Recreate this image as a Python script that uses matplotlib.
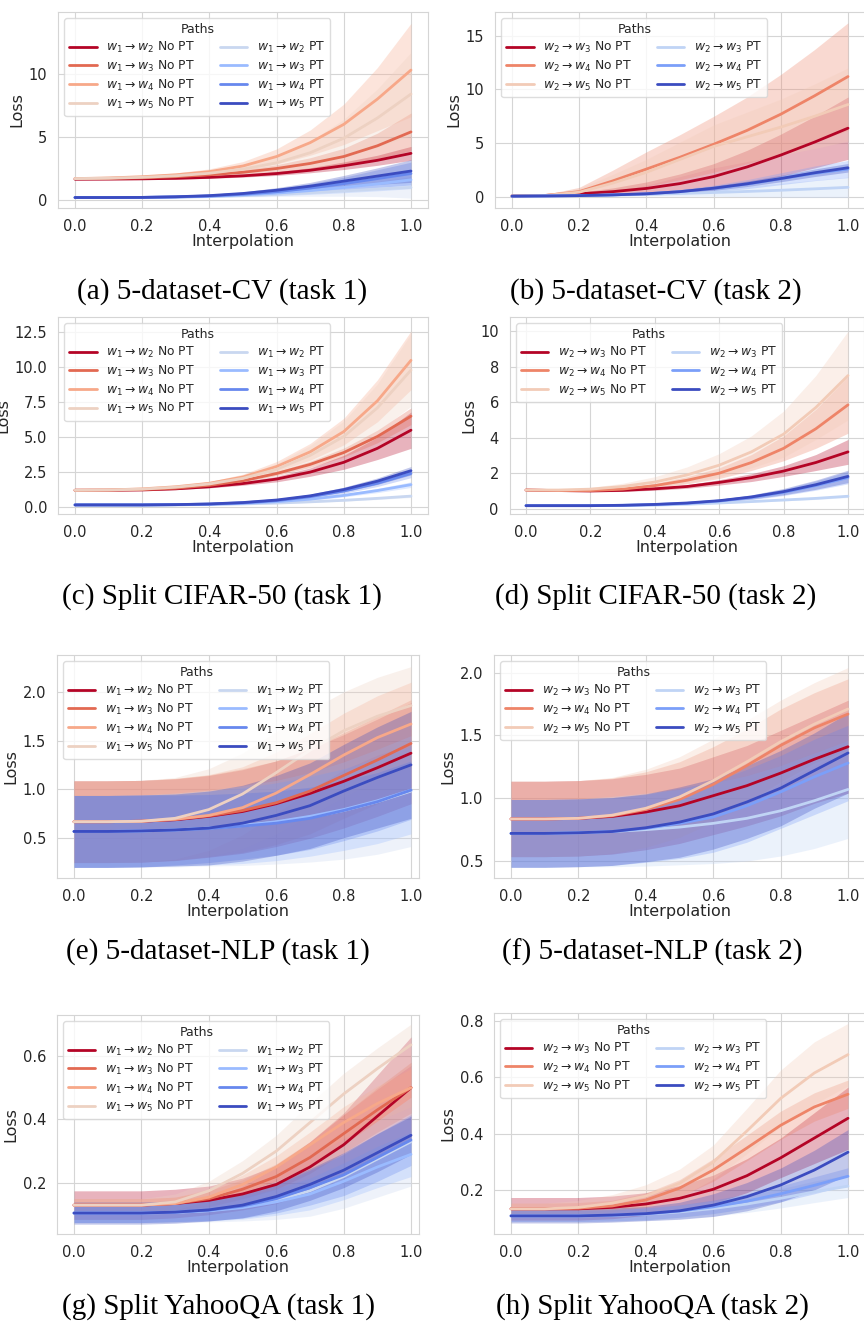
import numpy as np
import matplotlib
matplotlib.use("Agg")
import matplotlib.pyplot as plt
import seaborn as sns

sns.set_style("whitegrid")
plt.rcParams['font.family'] = ['DejaVu Sans']
plt.rcParams['axes.edgecolor'] = '#d5d5d5'
plt.rcParams['grid.color'] = '#d5d5d5'

# ---------------- data ----------------
interp = [0.0, 0.1, 0.2, 0.3, 0.4, 0.5, 0.6, 0.7, 0.8, 0.9, 1.0]

# (a) 5-dataset-CV task 1 : w1 -> w2..w5
a_nopt_mean = [
    [1.65, 1.66, 1.68, 1.72, 1.80, 1.92, 2.10, 2.36, 2.72, 3.15, 3.70],
    [1.70, 1.72, 1.76, 1.85, 2.00, 2.20, 2.50, 2.90, 3.45, 4.30, 5.40],
    [1.70, 1.75, 1.85, 2.00, 2.25, 2.70, 3.45, 4.55, 6.00, 8.00, 10.30],
    [1.70, 1.73, 1.80, 1.92, 2.12, 2.45, 2.95, 3.75, 4.90, 6.50, 8.40],
]
a_nopt_std = [
    [0.05, 0.05, 0.06, 0.07, 0.08, 0.10, 0.15, 0.20, 0.30, 0.40, 0.55],
    [0.05, 0.06, 0.08, 0.10, 0.13, 0.20, 0.30, 0.45, 0.65, 1.00, 1.50],
    [0.05, 0.07, 0.10, 0.15, 0.22, 0.35, 0.60, 1.00, 1.60, 2.50, 3.70],
    [0.05, 0.07, 0.10, 0.15, 0.22, 0.35, 0.55, 0.90, 1.50, 2.30, 3.30],
]
a_pt_mean = [
    [0.20, 0.20, 0.20, 0.22, 0.27, 0.35, 0.45, 0.58, 0.72, 0.87, 1.00],
    [0.20, 0.20, 0.21, 0.24, 0.30, 0.40, 0.55, 0.75, 1.00, 1.28, 1.60],
    [0.20, 0.20, 0.21, 0.25, 0.32, 0.46, 0.66, 0.95, 1.30, 1.70, 2.10],
    [0.20, 0.20, 0.21, 0.26, 0.35, 0.52, 0.78, 1.10, 1.50, 1.90, 2.30],
]
a_pt_std = [
    [0.02, 0.02, 0.03, 0.04, 0.06, 0.10, 0.17, 0.28, 0.42, 0.60, 0.85],
    [0.02, 0.02, 0.03, 0.05, 0.07, 0.12, 0.20, 0.30, 0.42, 0.55, 0.70],
    [0.02, 0.02, 0.03, 0.05, 0.08, 0.13, 0.22, 0.35, 0.50, 0.70, 0.90],
    [0.02, 0.02, 0.03, 0.05, 0.08, 0.13, 0.20, 0.30, 0.45, 0.65, 0.90],
]

# (b) 5-dataset-CV task 2 : w2 -> w3..w5
b_nopt_mean = [
    [0.10, 0.15, 0.30, 0.50, 0.80, 1.25, 1.90, 2.80, 3.90, 5.10, 6.40],
    [0.10, 0.15, 0.50, 1.50, 2.60, 3.70, 4.90, 6.20, 7.70, 9.40, 11.20],
    [0.10, 0.15, 0.45, 1.30, 2.30, 3.50, 4.70, 5.60, 6.50, 7.50, 8.60],
]
b_nopt_std = [
    [0.02, 0.05, 0.15, 0.35, 0.60, 0.90, 1.20, 1.55, 1.95, 2.40, 2.90],
    [0.02, 0.10, 0.40, 1.00, 1.60, 2.10, 2.60, 3.10, 3.70, 4.30, 5.00],
    [0.02, 0.10, 0.35, 0.80, 1.20, 1.60, 2.00, 2.30, 2.60, 3.00, 3.40],
]
b_pt_mean = [
    [0.08, 0.10, 0.13, 0.18, 0.25, 0.33, 0.42, 0.52, 0.63, 0.76, 0.90],
    [0.08, 0.10, 0.13, 0.20, 0.30, 0.50, 0.80, 1.20, 1.70, 2.20, 2.60],
    [0.08, 0.10, 0.13, 0.20, 0.30, 0.50, 0.82, 1.23, 1.72, 2.25, 2.72],
]
b_pt_std = [
    [0.01, 0.02, 0.05, 0.10, 0.15, 0.25, 0.35, 0.50, 0.65, 0.80, 0.95],
    [0.01, 0.02, 0.04, 0.07, 0.12, 0.20, 0.30, 0.42, 0.55, 0.68, 0.80],
    [0.01, 0.02, 0.04, 0.06, 0.10, 0.14, 0.20, 0.25, 0.30, 0.35, 0.40],
]

# (c) Split CIFAR-50 task 1
c_nopt_mean = [
    [1.20, 1.20, 1.22, 1.30, 1.45, 1.68, 2.00, 2.50, 3.20, 4.20, 5.50],
    [1.20, 1.21, 1.25, 1.35, 1.55, 1.88, 2.40, 3.05, 3.90, 5.05, 6.50],
    [1.20, 1.22, 1.30, 1.45, 1.70, 2.15, 2.90, 3.95, 5.40, 7.60, 10.50],
    [1.20, 1.22, 1.28, 1.42, 1.65, 2.05, 2.70, 3.70, 5.05, 7.10, 9.80],
]
c_nopt_std = [
    [0.02, 0.02, 0.03, 0.05, 0.08, 0.12, 0.20, 0.30, 0.50, 0.80, 1.30],
    [0.02, 0.02, 0.03, 0.05, 0.07, 0.10, 0.15, 0.22, 0.32, 0.45, 0.60],
    [0.02, 0.03, 0.05, 0.08, 0.12, 0.20, 0.35, 0.60, 0.95, 1.50, 2.10],
    [0.02, 0.03, 0.05, 0.08, 0.13, 0.22, 0.40, 0.70, 1.10, 1.70, 2.60],
]
c_pt_mean = [
    [0.15, 0.15, 0.15, 0.16, 0.18, 0.22, 0.28, 0.37, 0.48, 0.62, 0.78],
    [0.15, 0.15, 0.15, 0.16, 0.19, 0.26, 0.38, 0.56, 0.83, 1.18, 1.60],
    [0.15, 0.15, 0.15, 0.17, 0.21, 0.30, 0.46, 0.74, 1.15, 1.70, 2.40],
    [0.15, 0.15, 0.15, 0.17, 0.22, 0.32, 0.50, 0.80, 1.25, 1.85, 2.60],
]
c_pt_std = [
    [0.01, 0.01, 0.01, 0.01, 0.02, 0.02, 0.03, 0.04, 0.06, 0.08, 0.10],
    [0.01, 0.01, 0.01, 0.02, 0.03, 0.04, 0.06, 0.08, 0.10, 0.15, 0.20],
    [0.01, 0.01, 0.01, 0.02, 0.03, 0.05, 0.08, 0.12, 0.17, 0.23, 0.30],
    [0.01, 0.01, 0.01, 0.02, 0.03, 0.05, 0.08, 0.12, 0.17, 0.23, 0.30],
]

# (d) Split CIFAR-50 task 2
d_nopt_mean = [
    [1.05, 1.02, 1.00, 1.03, 1.12, 1.25, 1.48, 1.75, 2.12, 2.60, 3.20],
    [1.05, 1.02, 1.02, 1.10, 1.30, 1.60, 2.00, 2.60, 3.40, 4.50, 5.85],
    [1.05, 1.05, 1.10, 1.25, 1.50, 1.90, 2.45, 3.20, 4.20, 5.70, 7.50],
]
d_nopt_std = [
    [0.05, 0.05, 0.05, 0.06, 0.08, 0.10, 0.15, 0.22, 0.30, 0.45, 0.70],
    [0.05, 0.05, 0.06, 0.08, 0.12, 0.20, 0.30, 0.45, 0.70, 1.10, 1.60],
    [0.05, 0.06, 0.10, 0.18, 0.30, 0.45, 0.65, 0.90, 1.30, 1.80, 2.50],
]
d_pt_mean = [
    [0.17, 0.17, 0.17, 0.18, 0.20, 0.25, 0.32, 0.40, 0.49, 0.58, 0.70],
    [0.17, 0.17, 0.17, 0.19, 0.23, 0.30, 0.43, 0.63, 0.92, 1.30, 1.75],
    [0.17, 0.17, 0.17, 0.19, 0.24, 0.32, 0.45, 0.66, 0.96, 1.35, 1.82],
]
d_pt_std = [
    [0.01, 0.01, 0.01, 0.01, 0.02, 0.02, 0.03, 0.04, 0.05, 0.06, 0.07],
    [0.01, 0.01, 0.01, 0.02, 0.03, 0.05, 0.08, 0.12, 0.18, 0.26, 0.35],
    [0.01, 0.01, 0.01, 0.02, 0.03, 0.05, 0.08, 0.12, 0.18, 0.26, 0.35],
]

# (e) 5-dataset-NLP task 1
e_nopt_mean = [
    [0.665, 0.665, 0.670, 0.685, 0.720, 0.770, 0.850, 0.955, 1.080, 1.220, 1.370],
    [0.665, 0.665, 0.670, 0.690, 0.725, 0.780, 0.860, 0.980, 1.140, 1.300, 1.470],
    [0.665, 0.665, 0.670, 0.690, 0.730, 0.810, 0.960, 1.150, 1.350, 1.530, 1.670],
    [0.665, 0.665, 0.670, 0.700, 0.790, 0.950, 1.170, 1.400, 1.600, 1.750, 1.860],
]
e_nopt_std = [
    [0.42, 0.42, 0.42, 0.42, 0.42, 0.43, 0.44, 0.46, 0.48, 0.50, 0.52],
    [0.42, 0.42, 0.42, 0.42, 0.42, 0.43, 0.43, 0.44, 0.44, 0.45, 0.45],
    [0.42, 0.42, 0.42, 0.42, 0.42, 0.42, 0.42, 0.42, 0.43, 0.43, 0.43],
    [0.42, 0.42, 0.42, 0.42, 0.42, 0.42, 0.42, 0.41, 0.40, 0.40, 0.40],
]
e_pt_mean = [
    [0.565, 0.565, 0.570, 0.580, 0.600, 0.625, 0.660, 0.710, 0.780, 0.870, 0.980],
    [0.565, 0.565, 0.570, 0.580, 0.600, 0.625, 0.665, 0.720, 0.790, 0.880, 0.990],
    [0.565, 0.565, 0.570, 0.580, 0.595, 0.620, 0.650, 0.700, 0.780, 0.870, 0.990],
    [0.565, 0.565, 0.570, 0.580, 0.600, 0.650, 0.730, 0.830, 0.980, 1.120, 1.250],
]
e_pt_std = [
    [0.37, 0.37, 0.37, 0.38, 0.39, 0.41, 0.43, 0.46, 0.50, 0.54, 0.57],
    [0.37, 0.37, 0.37, 0.37, 0.38, 0.39, 0.40, 0.41, 0.42, 0.44, 0.45],
    [0.37, 0.37, 0.37, 0.36, 0.35, 0.34, 0.33, 0.32, 0.31, 0.30, 0.30],
    [0.37, 0.37, 0.37, 0.37, 0.38, 0.39, 0.41, 0.44, 0.48, 0.52, 0.55],
]

# (f) 5-dataset-NLP task 2
f_nopt_mean = [
    [0.835, 0.835, 0.840, 0.855, 0.890, 0.940, 1.020, 1.100, 1.200, 1.310, 1.410],
    [0.835, 0.835, 0.840, 0.860, 0.910, 0.990, 1.110, 1.260, 1.420, 1.560, 1.670],
    [0.835, 0.835, 0.840, 0.865, 0.920, 1.010, 1.140, 1.290, 1.450, 1.590, 1.710],
]
f_nopt_std = [
    [0.30, 0.30, 0.30, 0.30, 0.30, 0.30, 0.31, 0.32, 0.34, 0.35, 0.37],
    [0.30, 0.30, 0.30, 0.30, 0.30, 0.30, 0.30, 0.29, 0.29, 0.28, 0.28],
    [0.30, 0.30, 0.30, 0.30, 0.31, 0.32, 0.33, 0.33, 0.33, 0.33, 0.33],
]
f_pt_mean = [
    [0.720, 0.720, 0.725, 0.735, 0.750, 0.770, 0.800, 0.840, 0.900, 0.980, 1.070],
    [0.720, 0.720, 0.725, 0.735, 0.760, 0.800, 0.850, 0.940, 1.050, 1.170, 1.280],
    [0.720, 0.720, 0.725, 0.735, 0.765, 0.810, 0.875, 0.970, 1.080, 1.220, 1.360],
]
f_pt_std = [
    [0.27, 0.27, 0.27, 0.28, 0.29, 0.30, 0.32, 0.34, 0.36, 0.38, 0.39],
    [0.27, 0.27, 0.27, 0.27, 0.27, 0.28, 0.28, 0.29, 0.29, 0.30, 0.30],
    [0.27, 0.27, 0.27, 0.27, 0.27, 0.28, 0.28, 0.29, 0.30, 0.30, 0.32],
]

# (g) Split YahooQA task 1
g_nopt_mean = [
    [0.130, 0.130, 0.130, 0.135, 0.145, 0.165, 0.195, 0.250, 0.320, 0.410, 0.500],
    [0.130, 0.130, 0.130, 0.135, 0.150, 0.180, 0.220, 0.280, 0.355, 0.430, 0.500],
    [0.130, 0.130, 0.130, 0.135, 0.155, 0.195, 0.250, 0.320, 0.390, 0.450, 0.500],
    [0.130, 0.130, 0.130, 0.140, 0.175, 0.230, 0.300, 0.390, 0.480, 0.560, 0.635],
]
g_nopt_std = [
    [0.045, 0.045, 0.045, 0.045, 0.045, 0.050, 0.060, 0.080, 0.100, 0.130, 0.160],
    [0.020, 0.020, 0.020, 0.020, 0.025, 0.030, 0.040, 0.050, 0.060, 0.070, 0.080],
    [0.020, 0.020, 0.020, 0.020, 0.025, 0.030, 0.035, 0.040, 0.050, 0.055, 0.060],
    [0.020, 0.020, 0.020, 0.025, 0.030, 0.040, 0.050, 0.060, 0.065, 0.065, 0.065],
]
g_pt_mean = [
    [0.105, 0.105, 0.105, 0.108, 0.113, 0.125, 0.145, 0.175, 0.220, 0.275, 0.330],
    [0.105, 0.105, 0.105, 0.107, 0.112, 0.122, 0.140, 0.165, 0.205, 0.250, 0.290],
    [0.105, 0.105, 0.105, 0.108, 0.114, 0.127, 0.150, 0.185, 0.225, 0.280, 0.335],
    [0.105, 0.105, 0.105, 0.108, 0.115, 0.130, 0.157, 0.195, 0.240, 0.295, 0.350],
]
g_pt_std = [
    [0.030, 0.030, 0.030, 0.032, 0.036, 0.045, 0.060, 0.080, 0.100, 0.120, 0.140],
    [0.030, 0.030, 0.030, 0.030, 0.032, 0.036, 0.042, 0.050, 0.058, 0.065, 0.070],
    [0.030, 0.030, 0.030, 0.030, 0.033, 0.038, 0.045, 0.055, 0.065, 0.075, 0.080],
    [0.035, 0.035, 0.035, 0.035, 0.035, 0.040, 0.045, 0.050, 0.055, 0.060, 0.060],
]

# (h) Split YahooQA task 2
h_nopt_mean = [
    [0.135, 0.135, 0.135, 0.140, 0.152, 0.172, 0.204, 0.252, 0.315, 0.385, 0.455],
    [0.135, 0.135, 0.137, 0.145, 0.166, 0.208, 0.272, 0.350, 0.430, 0.495, 0.540],
    [0.135, 0.135, 0.140, 0.155, 0.180, 0.225, 0.300, 0.410, 0.525, 0.615, 0.680],
]
h_nopt_std = [
    [0.040, 0.040, 0.040, 0.040, 0.040, 0.045, 0.050, 0.060, 0.070, 0.090, 0.110],
    [0.020, 0.020, 0.020, 0.020, 0.025, 0.030, 0.040, 0.045, 0.050, 0.050, 0.050],
    [0.020, 0.020, 0.025, 0.030, 0.040, 0.050, 0.060, 0.080, 0.100, 0.110, 0.110],
]
h_pt_mean = [
    [0.110, 0.110, 0.110, 0.112, 0.116, 0.124, 0.136, 0.152, 0.172, 0.195, 0.215],
    [0.110, 0.110, 0.110, 0.112, 0.117, 0.127, 0.142, 0.162, 0.188, 0.218, 0.250],
    [0.110, 0.110, 0.110, 0.113, 0.118, 0.128, 0.148, 0.178, 0.219, 0.272, 0.335],
]
h_pt_std = [
    [0.020, 0.020, 0.020, 0.021, 0.022, 0.024, 0.027, 0.030, 0.034, 0.038, 0.040],
    [0.020, 0.020, 0.020, 0.020, 0.021, 0.022, 0.024, 0.026, 0.028, 0.030, 0.030],
    [0.025, 0.025, 0.025, 0.025, 0.025, 0.030, 0.040, 0.050, 0.060, 0.070, 0.080],
]

captions = [
    "(a) 5-dataset-CV (task 1)", "(b) 5-dataset-CV (task 2)",
    "(c) Split CIFAR-50 (task 1)", "(d) Split CIFAR-50 (task 2)",
    "(e) 5-dataset-NLP (task 1)", "(f) 5-dataset-NLP (task 2)",
    "(g) Split YahooQA (task 1)", "(h) Split YahooQA (task 2)",
]
sources = [1, 2, 1, 2, 1, 2, 1, 2]

# ---------------- layout / style ----------------
W, H = 864, 1325
# [x of data 0, x of data 1, top px, bottom px]
boxes = [
    (75, 411, 12, 208), (512, 848, 12, 208),
    (75, 411, 317, 514), (526, 848, 317, 514),
    (74, 411, 655, 878), (511, 848, 655, 878),
    (74, 411, 1015, 1234), (511, 848, 1013, 1234),
]
xright = [1.05, 1.05, 1.05, 1.05, 1.024, 1.05, 1.024, 1.05]
ylims = [(-0.63, 14.9), (-1.02, 17.2), (-0.5, 13.6), (-0.3, 10.8),
         (0.086, 2.38), (0.365, 2.14), (0.039, 0.729), (0.046, 0.827)]
yticks = [[0, 5, 10], [0, 5, 10, 15], [0, 2.5, 5, 7.5, 10, 12.5], [0, 2, 4, 6, 8, 10],
          [0.5, 1.0, 1.5, 2.0], [0.5, 1.0, 1.5, 2.0], [0.2, 0.4, 0.6], [0.2, 0.4, 0.6, 0.8]]
yfmts = ["{:.0f}", "{:.0f}", "{:.1f}", "{:.0f}", "{:.1f}", "{:.1f}", "{:.1f}", "{:.1f}"]
cap_pos = [(222, 292), (656, 292), (222, 597), (656, 597),
           (218, 952), (652, 952), (218, 1307), (652, 1307)]

panels = [
    (a_nopt_mean, a_nopt_std, a_pt_mean, a_pt_std),
    (b_nopt_mean, b_nopt_std, b_pt_mean, b_pt_std),
    (c_nopt_mean, c_nopt_std, c_pt_mean, c_pt_std),
    (d_nopt_mean, d_nopt_std, d_pt_mean, d_pt_std),
    (e_nopt_mean, e_nopt_std, e_pt_mean, e_pt_std),
    (f_nopt_mean, f_nopt_std, f_pt_mean, f_pt_std),
    (g_nopt_mean, g_nopt_std, g_pt_mean, g_pt_std),
    (h_nopt_mean, h_nopt_std, h_pt_mean, h_pt_std),
]

cmap = plt.get_cmap("coolwarm")
TEXT = '#262626'
BAND_ALPHA = 0.3

fig = plt.figure(figsize=(W / 100, H / 100), dpi=100)
x = np.array(interp)

for k, (nm, ns, pm, ps) in enumerate(panels):
    x0, x1, top, bot = boxes[k]
    unit = x1 - x0
    left = x0 - 0.05 * unit
    width = (0.05 + xright[k]) * unit
    ax = fig.add_axes([left / W, 1 - bot / H, width / W, (bot - top) / H])
    ax.set_xlim(-0.05, xright[k])
    ax.set_ylim(*ylims[k])
    n = len(nm) + len(pm)
    src = sources[k]
    handles = []
    for i, (m, s) in enumerate(zip(nm, ns)):
        col = cmap(1 - i / (n - 1))
        m = np.array(m); s = np.array(s)
        ax.fill_between(x, m - s, m + s, color=col, alpha=BAND_ALPHA, lw=0)
        h, = ax.plot(x, m, color=col, lw=2.0,
                     label=rf"$w_{src} \rightarrow w_{src + i + 1}$ No PT")
        handles.append(h)
    for i, (m, s) in enumerate(zip(pm, ps)):
        col = cmap((len(pm) - 1 - i) / (n - 1))
        m = np.array(m); s = np.array(s)
        ax.fill_between(x, m - s, m + s, color=col, alpha=BAND_ALPHA, lw=0)
        h, = ax.plot(x, m, color=col, lw=2.0,
                     label=rf"$w_{src} \rightarrow w_{src + i + 1}$ PT")
        handles.append(h)
    ax.set_xticks([0.0, 0.2, 0.4, 0.6, 0.8, 1.0])
    ax.set_xticklabels([f"{v:.1f}" for v in [0.0, 0.2, 0.4, 0.6, 0.8, 1.0]])
    ax.set_yticks(yticks[k])
    ax.set_yticklabels([yfmts[k].format(v) for v in yticks[k]])
    ax.tick_params(labelsize=10.5, colors=TEXT, pad=4.5)
    ax.set_xlabel("Interpolation", fontsize=11.5, color=TEXT, labelpad=0)
    ax.set_ylabel("Loss", fontsize=11.5, color=TEXT, labelpad=3)
    for sp in ax.spines.values():
        sp.set_color('#d5d5d5')
    leg = ax.legend(handles=handles, ncol=2, title="Paths", loc="upper left",
                    fontsize=8.9, title_fontsize=9, frameon=True,
                    borderaxespad=0.5, columnspacing=2.0, handlelength=2.2,
                    labelspacing=0.3, borderpad=0.4)
    leg.get_frame().set_edgecolor('#d5d5d5')
    for t in leg.get_texts():
        t.set_color(TEXT)
    leg.get_title().set_color(TEXT)

    cx, cy = cap_pos[k]
    fig.text(cx / W, 1 - cy / H, captions[k], ha='center', va='center',
             fontfamily='Liberation Serif', fontsize=21, color='black')

fig.savefig("out.png", dpi=100)
